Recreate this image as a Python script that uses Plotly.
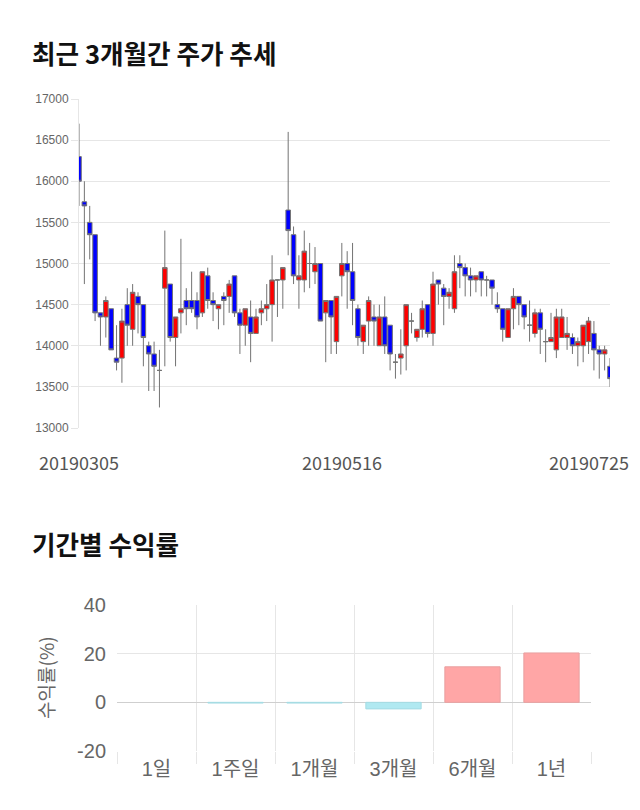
import plotly.graph_objects as go

# ---- price data (daily OHLC, 2019-03-05 .. 2019-07-25) ----
opens = [16300, 15750, 15500, 15350, 14400, 14350, 14450, 13850, 13850, 14500,
         14200, 14600, 14500, 14000, 13900, 13700, 14700, 14750, 14100, 14400,
         14550, 14550, 14550, 14400, 14850, 14550, 14450, 14600, 14600, 14850,
         14400, 14250, 14350, 14150, 14400, 14450, 14500, 14800, 14800, 15650,
         15350, 14800, 14800, 15000, 14900, 15000, 14400, 14550, 14050, 14850,
         15000, 14900, 14450, 14050, 14300, 14350, 14000, 14350, 14250, 13800,
         13850, 14000, 14300, 14100, 14200, 14500, 14150, 14800, 14700, 14600,
         14450, 15000, 14950, 14850, 14800, 14900, 14800, 14800, 14500, 14450,
         14100, 14450, 14600, 14500, 14250, 14150, 14400, 14050, 14050, 13950,
         14100, 14100, 14100, 14000, 14000, 14050, 14150, 13950, 13900, 13750]
highs = [16700, 16000, 15700, 15350, 14400, 14600, 14450, 14250, 14450, 14700,
         14750, 14650, 14500, 14050, 14050, 13950, 15400, 14750, 14350, 15300,
         14700, 14900, 14650, 14900, 14950, 14650, 14500, 14650, 14800, 14850,
         14450, 14450, 14550, 14450, 14550, 14750, 15100, 14800, 14950, 16600,
         15450, 15100, 15400, 15250, 15200, 15000, 14550, 14550, 14600, 15250,
         15150, 15250, 14500, 14250, 14600, 14500, 14500, 14600, 14250, 13900,
         14200, 14500, 14400, 14200, 14550, 14500, 14900, 14800, 14750, 14700,
         15100, 15100, 15000, 14950, 14850, 14900, 14850, 14800, 14650, 14450,
         14450, 14700, 14600, 14500, 14550, 14450, 14450, 14200, 14400, 14450,
         14450, 14350, 14150, 14100, 14250, 14350, 14300, 14000, 14000, 13850]
lows = [15700, 14750, 15050, 14300, 14000, 14100, 13950, 13700, 13550, 14000,
        14000, 14150, 13750, 13450, 13450, 13250, 13750, 14050, 13750, 14150,
        14250, 14400, 14200, 14350, 14450, 14300, 14200, 14250, 14400, 14350,
        13900, 14000, 13800, 14150, 14250, 14300, 14050, 14350, 14450, 15100,
        14750, 14450, 14650, 14700, 14750, 14300, 13800, 13900, 13900, 14600,
        14450, 14250, 14000, 13900, 14000, 14000, 14000, 13900, 13700, 13600,
        13650, 13700, 14150, 14050, 14100, 14100, 14000, 14500, 14250, 14450,
        14400, 14700, 14600, 14600, 14650, 14600, 14600, 14500, 14400, 14050,
        14100, 14200, 14250, 14200, 14050, 14100, 13900, 13800, 14050, 13850,
        14100, 13950, 13900, 13750, 13800, 13900, 13700, 13600, 13700, 13500]
closes = [16000, 15700, 15350, 14400, 14350, 14550, 13950, 13800, 14300, 14250,
          14650, 14500, 14100, 13900, 13750, 13700, 14950, 14100, 14350, 14450,
          14450, 14450, 14350, 14900, 14550, 14500, 14500, 14550, 14750, 14400,
          14250, 14450, 14150, 14350, 14450, 14500, 14800, 14800, 14950, 15400,
          14850, 14850, 15150, 15000, 15000, 14300, 14550, 14350, 14600, 15000,
          14900, 14550, 14100, 14250, 14550, 14300, 14350, 14000, 13900, 13800,
          13900, 14500, 14300, 14200, 14450, 14150, 14750, 14750, 14600, 14650,
          14900, 14950, 14850, 14800, 14850, 14800, 14800, 14700, 14450, 14200,
          14450, 14600, 14500, 14350, 14250, 14400, 14200, 14050, 14100, 14350,
          14350, 14150, 14000, 14050, 14250, 14300, 13950, 13900, 13950, 13600]
date_labels = ["20190305", "20190516", "20190725"]
date_label_pos = [0, 49, 99]
price_ticks = [13000, 13500, 14000, 14500, 15000, 15500, 16000, 16500, 17000]

# ---- period returns ----
periods = ["1일", "1주일", "1개월", "3개월", "6개월", "1년"]
returns = [0.0, -0.3, -0.3, -2.7, 14.6, 20.3]
return_ticks = [-20, 0, 20, 40]
return_tick_text = ["-20", "0", "20", "40"]

W, H = 640, 810
def px(x):
    return x / W
def py(y):
    return 1 - y / H

x_idx = list(range(len(opens)))

fig = go.Figure()
fig.add_trace(go.Candlestick(
    x=x_idx, open=opens, high=highs, low=lows, close=closes,
    xaxis="x", yaxis="y",
    increasing=dict(fillcolor="#ff0000", line=dict(color="#737373", width=1)),
    decreasing=dict(fillcolor="#0000ff", line=dict(color="#737373", width=1)),
    whiskerwidth=0, showlegend=False, hoverinfo="skip",
))

pos_fill, neg_fill = "#ffa6a6", "#b0e9f1"
pos_line, neg_line = "#e8a0a0", "#a4dbe3"
fig.add_trace(go.Bar(
    x=periods, y=returns, xaxis="x2", yaxis="y2", width=0.7,
    marker=dict(color=[pos_fill if v >= 0 else neg_fill for v in returns],
                line=dict(color=[pos_line if v >= 0 else neg_line for v in returns],
                          width=[1 if v != 0 else 0 for v in returns])),
    showlegend=False, hoverinfo="skip",
))

grid = "#e6e6e6"
fig.update_layout(
    width=W, height=H, margin=dict(l=0, r=0, t=0, b=0, autoexpand=False),
    paper_bgcolor="white", plot_bgcolor="white",
    boxgap=0.15, boxgroupgap=0,
    xaxis=dict(domain=[px(79), px(610)], range=[0, 99], anchor="y", automargin=False,
               rangeslider=dict(visible=False), showgrid=False, zeroline=False,
               showticklabels=False, ticks=""),
    yaxis=dict(domain=[py(428), py(99)], range=[13000, 17000], anchor="x", automargin=False,
               tickvals=price_ticks, ticktext=[str(v) for v in price_ticks],
               gridcolor=grid, zeroline=False, showline=True, linecolor=grid,
               ticks="outside", ticklen=7, tickcolor=grid,
               tickfont=dict(family="Liberation Sans, Arial", size=12, color="#666")),
    xaxis2=dict(domain=[px(117), px(591)], anchor="y2", type="category", automargin=False,
                tickson="boundaries", showgrid=True, gridcolor=grid,
                ticks="outside", ticklen=12, tickcolor=grid, ticklabelstandoff=4,
                tickfont=dict(family="Liberation Sans, Noto Sans CJK KR", size=20, color="#666")),
    yaxis2=dict(domain=[py(751), py(605)], anchor="x2", range=[-20, 40], automargin=False,
                tickvals=return_ticks, ticktext=return_tick_text,
                gridcolor=grid, zeroline=True, zerolinecolor="#cfcfcf", zerolinewidth=1,
                ticks="outside", ticklen=6, tickcolor="rgba(0,0,0,0)",
                tickfont=dict(family="Liberation Sans, Arial", size=20, color="#666")),
)

title_font = dict(family="Noto Sans CJK KR", size=25.6, color="#111")
fig.add_annotation(text="<b>최근 3개월간 주가 추세</b>", xref="paper", yref="paper",
                   x=px(30), y=py(52), xanchor="left", yanchor="middle",
                   showarrow=False, font=title_font)
fig.add_annotation(text="<b>기간별 수익률</b>", xref="paper", yref="paper",
                   x=px(30), y=py(543), xanchor="left", yanchor="middle",
                   showarrow=False, font=title_font)
fig.add_annotation(text="수익률(%)", xref="paper", yref="paper",
                   x=px(45), y=py(678), xanchor="center", yanchor="middle",
                   textangle=-90, showarrow=False,
                   font=dict(family="Noto Sans CJK KR", size=19, color="#666"))

date_font = dict(family="Noto Sans CJK KR", size=18, color="#555")
for i, (lab, pos) in enumerate(zip(date_labels, date_label_pos)):
    last = i == len(date_labels) - 1
    fig.add_annotation(text=lab, xref="x", yref="paper", x=pos, y=py(462),
                       xanchor="right" if last else "center", yanchor="middle",
                       xshift=21 if last else 0, showarrow=False, font=date_font)

fig.write_html("out.html")
